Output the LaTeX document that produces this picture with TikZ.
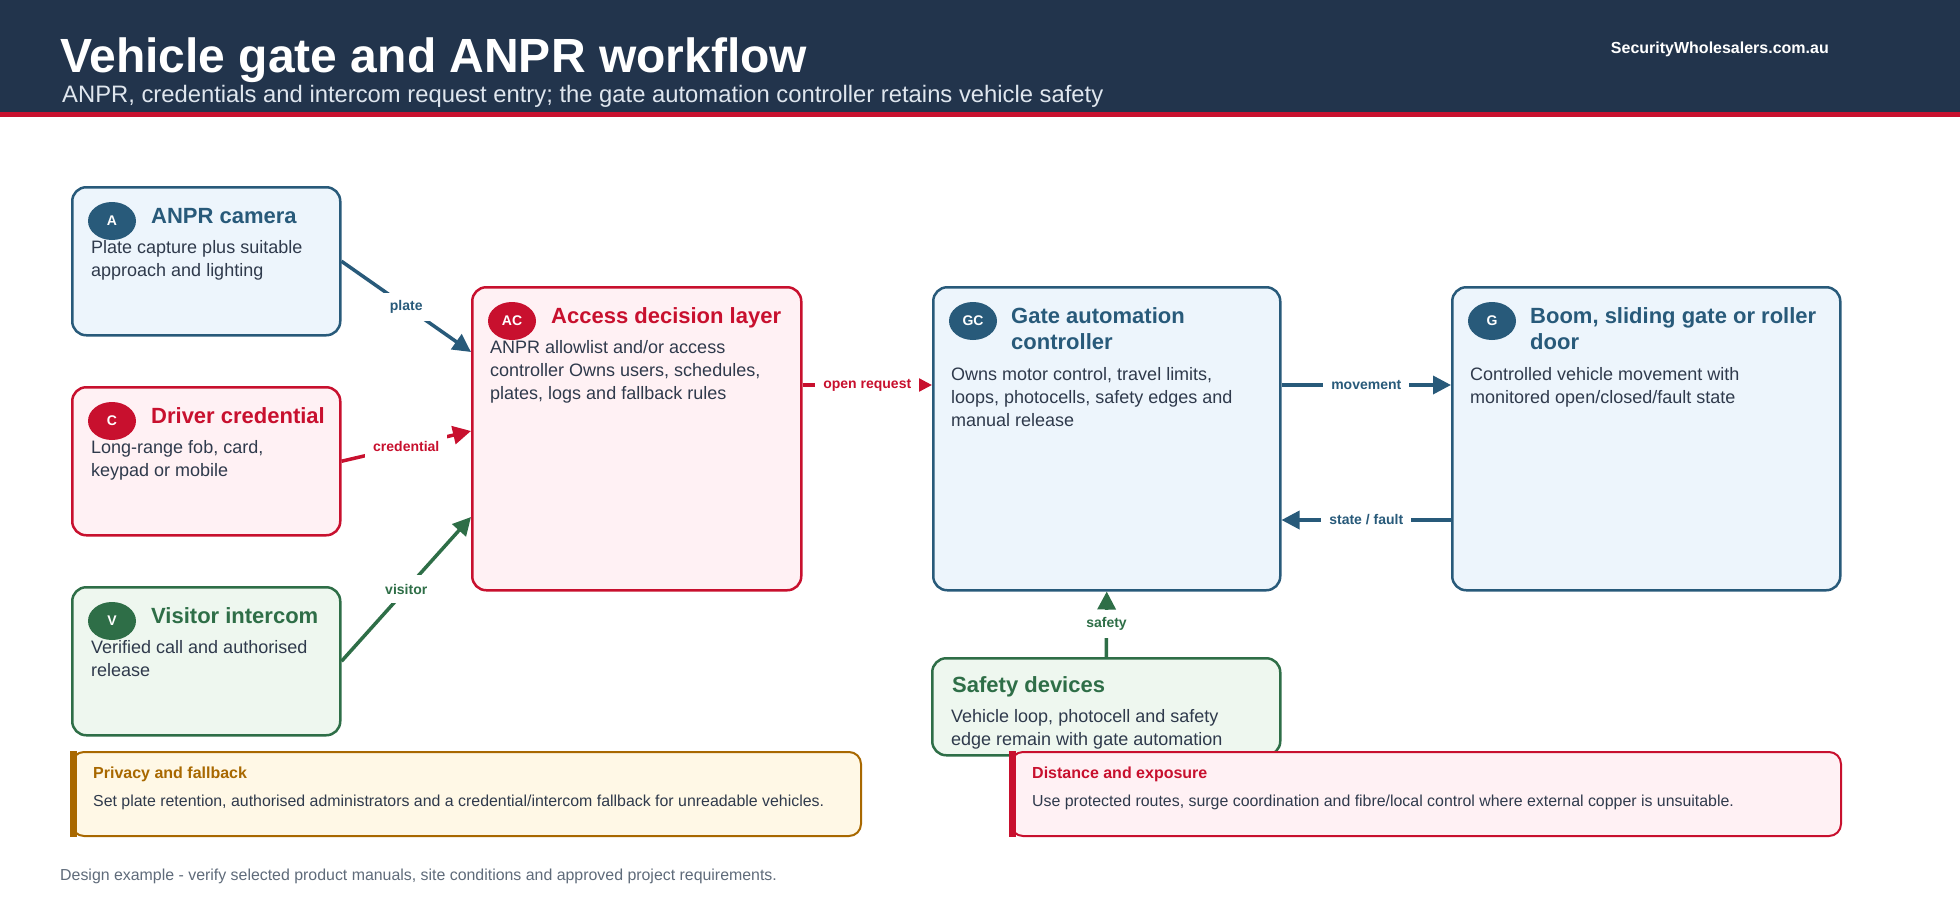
\documentclass[tikz,border=0pt]{standalone}
\usepackage{fontspec}
\setmainfont{Liberation Sans}
\usetikzlibrary{arrows.meta,calc,shapes.geometric}

\definecolor{navy}{HTML}{22344C}
\definecolor{brandred}{HTML}{C8102E}
\definecolor{cblue}{HTML}{285A7A}
\definecolor{cbluefill}{HTML}{EDF5FC}
\definecolor{credfill}{HTML}{FFF1F4}
\definecolor{cgreen}{HTML}{2E6E47}
\definecolor{cgreenfill}{HTML}{EEF7EF}
\definecolor{cgold}{HTML}{A86800}
\definecolor{cgoldfill}{HTML}{FFF8E6}
\definecolor{bodytext}{HTML}{2F3A4C}
\definecolor{footgray}{HTML}{5F6B7A}
\definecolor{subwhite}{HTML}{DFE6EE}

\newcommand{\bodyp}[2][320pt]{\parbox[t]{#1}{\fontsize{18}{23}\selectfont\raggedright #2}}
\newcommand{\ttlp}[1]{\parbox[t]{300pt}{\fontsize{22}{26}\selectfont\bfseries\raggedright #1}}

\tikzset{
  card/.style={draw, rounded corners=14pt, line width=2.5pt, anchor=north west, inner sep=0pt},
  notebox/.style={draw, rounded corners=12pt, line width=2pt, anchor=north west, inner sep=0pt,
    minimum height=84pt},
  badge/.style={ellipse, minimum width=48pt, minimum height=38pt, inner sep=0pt, text=white,
    font=\fontsize{14}{14}\selectfont\bfseries},
  ttl/.style={anchor=base west, inner sep=0pt},
  bodytxt/.style={anchor=base west, inner sep=0pt, text=bodytext},
  conn/.style={line width=3.5pt, -{Triangle[length=18pt,width=18pt]}},
  lbl/.style={fill=white, inner xsep=8pt, inner ysep=0pt, minimum height=28pt,
    font=\fontsize{14}{14}\selectfont\bfseries},
  notettl/.style={anchor=base west, inner sep=0pt, font=\fontsize{16}{16}\selectfont\bfseries},
  notebody/.style={anchor=base west, inner sep=0pt, text=bodytext, font=\fontsize{15.9}{16}\selectfont},
}

\begin{document}
\begin{tikzpicture}[x=1pt,y=-1pt]
\useasboundingbox (0,0) rectangle (1960,900);
\fill[white] (0,0) rectangle (1960,900);

% header
\fill[navy] (0,0) rectangle (1960,112);
\fill[brandred] (0,112) rectangle (1960,117);
\node[anchor=base west, inner sep=0pt, text=white, font=\fontsize{48}{48}\selectfont\bfseries] (title) at (60,72) {Vehicle gate and ANPR workflow};
\node[anchor=base west, inner sep=0pt, text=subwhite, font=\fontsize{23.8}{24}\selectfont] (subtitle) at (62,102) {ANPR, credentials and intercom request entry; the gate automation controller retains vehicle safety};
\node[anchor=base east, inner sep=0pt, text=white, font=\fontsize{16}{16}\selectfont\bfseries] (brand) at (1829,53) {SecurityWholesalers.com.au};

% cards
\node[card, cblue, fill=cbluefill, minimum width=268pt, minimum height=148pt] (A) at (71,186) {};
\node[card, brandred, fill=credfill, minimum width=268pt, minimum height=148pt] (C) at (71,386) {};
\node[card, cgreen, fill=cgreenfill, minimum width=268pt, minimum height=148pt] (V) at (71,586) {};
\node[card, brandred, fill=credfill, minimum width=329pt, minimum height=303pt] (AC) at (471,286) {};
\node[card, cblue, fill=cbluefill, minimum width=347pt, minimum height=303pt] (GC) at (932,286) {};
\node[card, cblue, fill=cbluefill, minimum width=388pt, minimum height=303pt] (G) at (1451,286) {};
\node[card, cgreen, fill=cgreenfill, minimum width=348pt, minimum height=97pt] (S) at (931,657) {};

% badges
\node[badge, fill=cblue] (bA) at ($(A.north west)+(41,35)$) {A};
\node[badge, fill=brandred] (bC) at ($(C.north west)+(41,35)$) {C};
\node[badge, fill=cgreen] (bV) at ($(V.north west)+(41,35)$) {V};
\node[badge, fill=brandred] (bAC) at ($(AC.north west)+(41,35)$) {AC};
\node[badge, fill=cblue] (bGC) at ($(GC.north west)+(41,35)$) {GC};
\node[badge, fill=cblue] (bG) at ($(G.north west)+(41,35)$) {G};

% titles
\node[ttl, text=cblue] (tA) at ($(A.north west)+(80,37)$) {\ttlp{ANPR camera}};
\node[ttl, text=brandred] (tC) at ($(C.north west)+(80,37)$) {\ttlp{Driver credential}};
\node[ttl, text=cgreen] (tV) at ($(V.north west)+(80,37)$) {\ttlp{Visitor intercom}};
\node[ttl, text=brandred] (tAC) at ($(AC.north west)+(80,37)$) {\ttlp{Access decision layer}};
\node[ttl, text=cblue] (tGC) at ($(GC.north west)+(79,37)$) {\ttlp{Gate automation\\controller}};
\node[ttl, text=cblue] (tG) at ($(G.north west)+(79,37)$) {\ttlp{Boom, sliding gate or roller\\door}};
\node[ttl, text=cgreen] (tS) at ($(S.north west)+(21,35)$) {\ttlp{Safety devices}};

% bodies
\node[bodytxt] (dA) at ($(A.north west)+(20,67)$) {\bodyp{Plate capture plus suitable\\approach and lighting}};
\node[bodytxt] (dC) at ($(C.north west)+(20,67)$) {\bodyp{Long-range fob, card,\\keypad or mobile}};
\node[bodytxt] (dV) at ($(V.north west)+(20,67)$) {\bodyp{Verified call and authorised\\release}};
\node[bodytxt] (dAC) at ($(AC.north west)+(19,67)$) {\bodyp{ANPR allowlist and/or access\\controller Owns users, schedules,\\plates, logs and fallback rules}};
\node[bodytxt] (dGC) at ($(GC.north west)+(19,94)$) {\bodyp{Owns motor control, travel limits,\\loops, photocells, safety edges and\\manual release}};
\node[bodytxt] (dG) at ($(G.north west)+(19,94)$) {\bodyp{Controlled vehicle movement with\\monitored open/closed/fault state}};
\node[bodytxt] (dS) at ($(S.north west)+(20,65)$) {\bodyp{Vehicle loop, photocell and safety\\edge remain with gate automation}};

% connectors
\draw[conn, cblue] (A.east) -- ($(AC.north west)+(0,66)$) node[lbl, text=cblue, midway] (lplate) {plate};
\draw[conn, brandred] (C.east) -- ($(AC.north west)+(0,145)$) node[lbl, text=brandred, midway] (lcred) {credential};
\draw[conn, cgreen] (V.east) -- ($(AC.north west)+(0,231)$) node[lbl, text=cgreen, midway] (lvis) {visitor};
\draw[conn, brandred] ($(AC.north east)+(0,99)$) -- ($(GC.north west)+(0,99)$) node[lbl, text=brandred, midway] (lopen) {open request};
\draw[conn, cblue] ($(GC.north east)+(0,99)$) -- ($(G.north west)+(0,99)$) node[lbl, text=cblue, midway] (lmove) {movement};
\draw[conn, cblue] ($(G.north west)+(0,234)$) -- ($(GC.north east)+(0,234)$) node[lbl, text=cblue, midway] (lstate) {state / fault};
\draw[conn, cgreen] (S.north) -- (GC.south) node[lbl, text=cgreen, midway] (lsafe) {safety};

% notes
\node[notebox, cgold, fill=cgoldfill, minimum width=789pt] (P) at (71,751) {};
\fill[cgold] ($(P.north west)+(-1,0)$) rectangle ($(P.south west)+(6,0)$);
\node[notettl, text=cgold] (tP) at ($(P.north west)+(22,27)$) {Privacy and fallback};
\node[notebody] (dP) at ($(P.north west)+(22,55)$) {Set plate retention, authorised administrators and a credential/intercom fallback for unreadable vehicles.};

\node[notebox, brandred, fill=credfill, minimum width=830pt] (D) at (1010,751) {};
\fill[brandred] ($(D.north west)+(-1,0)$) rectangle ($(D.south west)+(6,0)$);
\node[notettl, text=brandred] (tD) at ($(D.north west)+(22,27)$) {Distance and exposure};
\node[notebody] (dD) at ($(D.north west)+(22,55)$) {Use protected routes, surge coordination and fibre/local control where external copper is unsuitable.};

% footer
\node[anchor=base west, inner sep=0pt, text=footgray, font=\fontsize{15.9}{16}\selectfont] (foot) at (60,880) {Design example - verify selected product manuals, site conditions and approved project requirements.};
\end{tikzpicture}
\end{document}
